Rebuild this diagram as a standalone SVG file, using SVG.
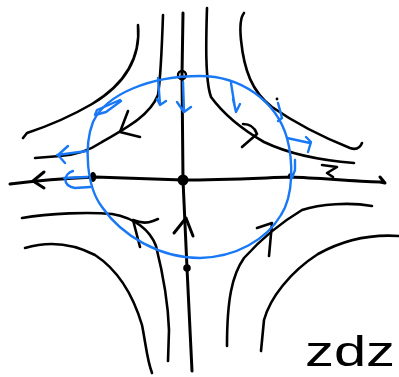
<svg xmlns="http://www.w3.org/2000/svg" width="399" height="377" viewBox="0 0 399 377">
<style>
.k{fill:none;stroke:#000;stroke-width:2.6;stroke-linecap:round;stroke-linejoin:round}
.ax{fill:none;stroke:#000;stroke-width:3;stroke-linecap:round;stroke-linejoin:round}
.b{fill:none;stroke:#1878f5;stroke-width:2.4;stroke-linecap:round;stroke-linejoin:round}
.d{fill:#000}
</style>
<rect width="399" height="377" fill="#fff"/>
<g id="flow-lines">
<path class="k" d="M138,25 C141,60 122,86 92,104 C68,118 45,127 27,133 L23,138"/>
<path class="k" d="M163,15 C162,45 161,75 158,95 C150,115 128,127 102,142 C90,150 78,155 60,156 L35,158"/>
<path class="k" d="M128,111 L120,132 L140,137"/>
<path class="k" d="M207,8 C206,40 205,80 211,97 C222,112 238,127 264,142 C285,152 315,160 354,163"/>
<path class="k" d="M243,124 C250,124 255,128 257,134 L242,147"/>
<path class="k" d="M244,13 C240,18 240,30 241,40 C244,70 252,92 272,107 C295,123 325,138 350,148 C356,150 360,148 362,143"/>
<circle class="d" cx="277" cy="99" r="1.4"/>
<path class="k" d="M322,165 L337,167 L327,173 L333,177"/>
<path class="k" d="M22,218 C50,213 90,212 112,214 C135,218 150,230 156,246 C162,270 168,300 169,330 L168,361"/>
<path class="k" d="M140,247 L133,220 C140,223 148,223 153,221 L158,219"/>
<path class="k" d="M25,248 C45,242 70,242 95,255 C118,270 133,295 142,325 C146,345 147,360 152,373"/>
<path class="k" d="M372,206 C350,202 320,204 302,210 C282,222 262,238 244,258 C232,275 227,300 227,346"/>
<path class="k" d="M257,228 L272,223 L269,256"/>
<path class="k" d="M399,236 C370,234 345,239 318,254 C290,272 270,298 264,320 L261,351"/>
</g>
<g id="axes">
<path class="ax" d="M10,184 C40,180 70,178 95,177 L183,180 C220,180 260,178 290,177 C320,178 350,181 380,182 L385,183 L380,177"/>
<path class="ax" d="M33,181 L44,172 M33,181 L44,188"/>
<path class="ax" d="M183,13 L182,75 L183,180 L187,268 L192,371"/>
<path class="ax" d="M174,233 L186,218 L193,236"/>
<ellipse class="d" cx="93" cy="177" rx="3.2" ry="5"/>
<circle class="d" cx="183" cy="180" r="5.5"/>
<circle class="d" cx="187" cy="268" r="3.8"/>
<circle class="d" cx="291" cy="176" r="3"/>
<circle cx="182" cy="75" r="4" fill="none" stroke="#000" stroke-width="2.4"/>
</g>
<g id="circle">
<path class="b" d="M200,76 C240,76 276,100 287,138 C293,160 294,195 281,215 C266,240 236,257 200,258 C160,258 122,236 102,207 C86,186 84,145 93,122 C106,94 150,76 200,76 Z"/>
<path class="b" d="M158,78 L160,104 M157,99 L160,105 L166,101"/>
<path class="b" d="M183,82 L184,112 M177,102 L184,112 L191,107"/>
<path class="b" d="M120,100 L97,110 L95,115 L106,112 L121,101"/>
<path class="b" d="M57,155 L87,151 M68,146 L58,155 L65,163"/>
<path class="b" d="M73,171 C63,174 62,186 75,188 L90,187 M64,178 L87,177"/>
<path class="b" d="M231,83 L235,108 M233,99 L236,112 L240,104"/>
<path class="b" d="M278,103 L282,118 L278,121"/>
<path class="b" d="M287,138 L310,143 M306,137 L311,142 L308,152"/>
<path class="b" d="M295,160 L295,170 L292,178"/>
</g>
<text x="305" y="366" font-family="Liberation Sans, Arial, sans-serif" font-size="42" textLength="90" lengthAdjust="spacingAndGlyphs" fill="#000">zdz</text>
</svg>
